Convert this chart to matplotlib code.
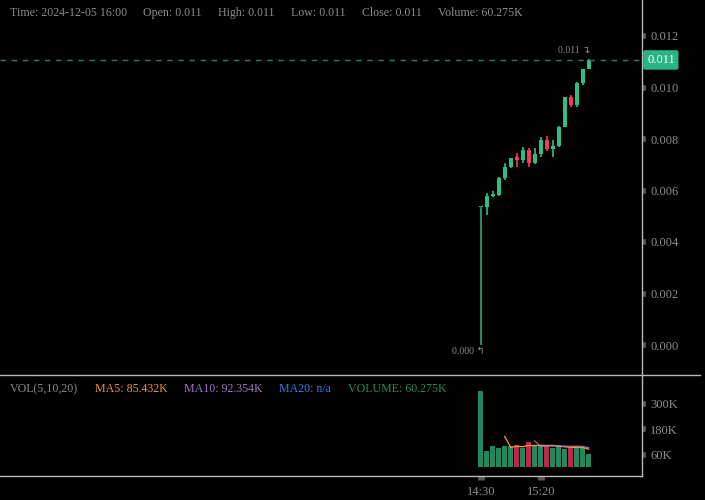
import numpy as np
import pandas as pd
import matplotlib
matplotlib.use('Agg')
import matplotlib.pyplot as plt
from matplotlib.lines import Line2D

plt.rcParams['font.family'] = ['Liberation Serif', 'DejaVu Sans']

# =============================================================================
# data (5 min candles, 14:30 -> 16:00)
# =============================================================================
opens  = [0.00535, 0.00537, 0.00580, 0.00582, 0.00650, 0.00690, 0.00730, 0.00720, 0.00757, 0.00706,
          0.00740, 0.00796, 0.00760, 0.00773, 0.00845, 0.00962, 0.00931, 0.01019, 0.01070]
closes = [0.00540, 0.00580, 0.00585, 0.00650, 0.00690, 0.00725, 0.00720, 0.00757, 0.00706, 0.00740,
          0.00796, 0.00760, 0.00773, 0.00845, 0.00962, 0.00931, 0.01019, 0.01070, 0.01107]
highs  = [0.00540, 0.00590, 0.00600, 0.00652, 0.00706, 0.00728, 0.00744, 0.00768, 0.00765, 0.00765,
          0.00807, 0.00810, 0.00796, 0.00850, 0.00965, 0.00970, 0.01020, 0.01073, 0.01110]
lows   = [0.00000, 0.00505, 0.00575, 0.00580, 0.00640, 0.00689, 0.00692, 0.00708, 0.00690, 0.00703,
          0.00729, 0.00754, 0.00730, 0.00770, 0.00845, 0.00925, 0.00925, 0.01010, 0.01070]
volumes = [359, 78, 100, 91, 100, 100, 103, 91, 119, 98.38,
           106, 99, 93, 100, 85, 93, 99, 89.885, 60.275]   # K
tick_labels = {0: '14:30', 10: '15:20'}
price_ticks = [0.000, 0.002, 0.004, 0.006, 0.008, 0.010, 0.012]
vol_ticks = [60, 180, 300]

header = ['Time: 2024-12-05 16:00', 'Open: 0.011', 'High: 0.011', 'Low: 0.011',
          'Close: 0.011', 'Volume: 60.275K']

GREEN = '#2ebd85'
RED = '#f23b5c'
GREY = '#8c8c8c'

x = np.arange(len(opens))
o = np.array(opens); c = np.array(closes)
up = c >= o
cols = np.where(up, GREEN, RED)
vol = pd.Series(volumes)
ma5 = vol.rolling(5).mean()
ma10 = vol.rolling(10).mean()

W, H = 705, 500
fig = plt.figure(figsize=(7.05, 5.0), dpi=100, facecolor='black')

xmin = -480.7 / 6
xmax = xmin + 642 / 6

# ---------------- price panel
ax = fig.add_axes([0, 125 / H, 642 / W, 375 / H], facecolor='black')
ax.vlines(x, lows, highs, colors=cols, lw=1.2)
ax.vlines(x[0], lows[0], highs[0], colors='#2a8a68', lw=1.5)
body_h = np.maximum(np.abs(c - o), 0.00004)
ax.bar(x, body_h, bottom=np.minimum(o, c), width=0.7, color=cols, lw=0)
ax.axhline(closes[-1], color='#2a7d5f', ls=(0, (4, 4)), lw=1)
ax.set_xlim(xmin, xmax)
ax.set_ylim((345 - 375) / 25750, 345 / 25750)
ax.yaxis.tick_right()
ax.set_yticks(price_ticks)
ax.set_yticklabels(['%.3f' % t for t in price_ticks])
ax.tick_params(axis='y', colors='#555555', length=3, width=4, pad=3,
               labelcolor=GREY, labelsize=9)
ax.set_xticks([])
for s in ax.spines.values():
    s.set_visible(False)

imax = int(np.argmax(highs)); imin = int(np.argmin(lows))
ax.text(x[imax] + 0.2, highs[imax] + 0.00035, '%.3f ↴' % highs[imax], color=GREY,
        fontsize=7, ha='right', va='center')
ax.text(x[imin] + 0.6, lows[imin] - 0.00025, '%.3f ↰' % lows[imin], color=GREY,
        fontsize=7, ha='right', va='center')
ax.text(1.0 + 5 / 642, closes[-1], '%.3f' % closes[-1], transform=ax.get_yaxis_transform(),
        color='white', fontsize=9, ha='left', va='center',
        bbox=dict(boxstyle='round,pad=0.3,rounding_size=0.15', fc='#26b583', ec='none'))

# ---------------- volume panel
axv = fig.add_axes([0, 24 / H, 642 / W, 101 / H], facecolor='black')
vcols = np.where(up, '#23875f', '#c2244a')
axv.bar(x, volumes, width=0.75, color=vcols, lw=0)
axv.plot(x, ma5, color='#e8963a', lw=1)
axv.plot(x, ma10, color='#a880c8', lw=1, alpha=0.8)
axv.set_xlim(xmin, xmax)
axv.set_ylim((467.3 - 476) / 0.2125, (467.3 - 375) / 0.2125)
axv.yaxis.tick_right()
axv.set_yticks(vol_ticks)
axv.set_yticklabels(['%dK' % t for t in vol_ticks])
axv.tick_params(axis='y', colors='#555555', length=3, width=4, pad=3,
                labelcolor=GREY, labelsize=9)
axv.set_xticks(list(tick_labels.keys()))
axv.set_xticklabels(list(tick_labels.values()))
axv.tick_params(axis='x', colors='#555555', length=3, width=5, pad=4,
                labelcolor=GREY, labelsize=9)
for s in axv.spines.values():
    s.set_visible(False)

# ---------------- frame lines
fig.add_artist(Line2D([642 / W, 642 / W], [24 / H, 1], color='#bbbbbb', lw=1))
fig.add_artist(Line2D([0, 700 / W], [125 / H, 125 / H], color='#bbbbbb', lw=1))
fig.add_artist(Line2D([0, 642 / W], [24 / H, 24 / H], color='#bbbbbb', lw=1))

# ---------------- header texts
hx = [10, 143, 218, 291, 362, 438]
for xx, t in zip(hx, header):
    fig.text(xx / W, 1 - 13 / H, t, color=GREY, fontsize=8.6, va='center', ha='left')

vol_items = [('VOL(5,10,20)', GREY, 10),
             ('MA5: %.3fK' % ma5.iloc[-1], '#e8963a', 95),
             ('MA10: %.3fK' % ma10.iloc[-1], '#9a78c0', 184),
             ('MA20: n/a', '#2f7fe8', 279),
             ('VOLUME: %.3fK' % volumes[-1], '#2a8a60', 348)]
for t, col, xx in vol_items:
    fig.text(xx / W, 1 - 389 / H, t, color=col, fontsize=8.6, va='center', ha='left')

fig.savefig('out.png', dpi=100, facecolor='black')
